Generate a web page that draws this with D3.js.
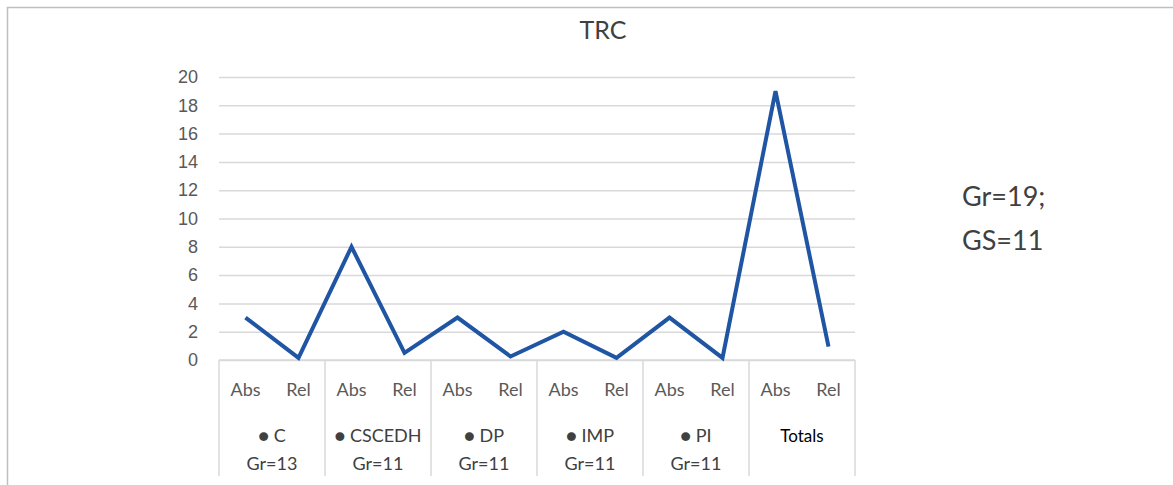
<!DOCTYPE html>
<html>
<head>
<meta charset="utf-8">
<script src="https://cdn.jsdelivr.net/npm/d3@7"></script>
<style>
  body { margin: 0; background: #fff; }
  svg { display: block; font-family: Lato, "Open Sans", sans-serif; }
</style>
</head>
<body>
<svg id="chart"></svg>
<script>
// chart data
var groups = ["C", "CSCEDH", "DP", "IMP", "PI", "Totals"];
var groupNotes = ["Gr=13", "Gr=11", "Gr=11", "Gr=11", "Gr=11", ""];
var kinds = ["Abs", "Rel"];
var values = [3, 0.15, 8, 0.5, 3, 0.25, 2, 0.15, 3, 0.15, 19, 0.95];
var yTicks = [0, 2, 4, 6, 8, 10, 12, 14, 16, 18, 20];
var title = "TRC";
var sideNote = ["Gr=19;", "GS=11"];

function drawChart() {
    var width = 1173, height = 485;
    var left = 219, right = 855, plotTop = 77, bottom = 360;

    var svg = d3.select("#chart")
        .attr("width", width)
        .attr("height", height);

    // outer frame (top + left edges visible)
    svg.append("path")
        .attr("d", "M7.5," + height + "V7.5H" + width)
        .attr("fill", "none")
        .attr("stroke", "#bfbfbf")
        .attr("stroke-width", 1.5);

    var keys = [];
    groups.forEach(function(g) {
        kinds.forEach(function(k) { keys.push(g + "|" + k); });
    });

    var x = d3.scaleBand().domain(keys).range([left, right]);
    var xg = d3.scaleBand().domain(groups).range([left, right]);
    var y = d3.scaleLinear().domain([0, 20]).range([bottom, plotTop]);

    // y axis + gridlines
    var yAxis = svg.append("g")
        .attr("transform", "translate(" + left + ",0)")
        .call(d3.axisLeft(y).tickValues(yTicks).tickSize(-(right - left)).tickPadding(21));
    yAxis.select(".domain").remove();
    yAxis.selectAll(".tick line").attr("stroke", "#d9d9d9").attr("stroke-width", 1.5);
    yAxis.selectAll(".tick text")
        .attr("fill", "#595959")
        .style("font-size", "18px");

    // category box
    var cat = svg.append("g");
    cat.append("line")
        .attr("x1", left).attr("x2", right)
        .attr("y1", bottom).attr("y2", bottom)
        .attr("stroke", "#d9d9d9").attr("stroke-width", 1.5);
    cat.selectAll(".sep")
        .data(groups.concat(["end"]))
        .enter().append("line")
        .attr("class", "sep")
        .attr("x1", function(d) { return d === "end" ? right : xg(d); })
        .attr("x2", function(d) { return d === "end" ? right : xg(d); })
        .attr("y1", bottom).attr("y2", 476)
        .attr("stroke", "#d9d9d9").attr("stroke-width", 1.5);

    cat.selectAll(".kind")
        .data(keys)
        .enter().append("text")
        .attr("class", "kind")
        .attr("x", function(d) { return x(d) + x.bandwidth() / 2; })
        .attr("y", 396)
        .attr("text-anchor", "middle")
        .attr("fill", "#595959")
        .style("font-size", "18px")
        .text(function(d) { return d.split("|")[1]; });

    cat.selectAll(".grp")
        .data(groups)
        .enter().append("text")
        .attr("class", "grp")
        .attr("x", function(d) { return xg(d) + xg.bandwidth() / 2; })
        .attr("y", 442)
        .attr("text-anchor", "middle")
        .attr("fill", function(d) { return d === "Totals" ? "#000" : "#404040"; })
        .style("font-size", function(d) { return d === "Totals" ? "17px" : "18px"; })
        .text(function(d) { return d === "Totals" ? d : "\u25CF " + d; });

    cat.selectAll(".note")
        .data(groups)
        .enter().append("text")
        .attr("class", "note")
        .attr("x", function(d) { return xg(d) + xg.bandwidth() / 2; })
        .attr("y", 470)
        .attr("text-anchor", "middle")
        .attr("fill", "#404040")
        .style("font-size", "18px")
        .text(function(d, i) { return groupNotes[i]; });

    // the line
    var line = d3.line()
        .x(function(d, i) { return x(keys[i]) + x.bandwidth() / 2; })
        .y(function(d) { return y(d); });

    svg.append("path")
        .datum(values)
        .attr("d", line)
        .attr("fill", "none")
        .attr("stroke", "#1f55a3")
        .attr("stroke-width", 4)
        .attr("stroke-linejoin", "miter");

    // title
    svg.append("text")
        .attr("x", 603).attr("y", 39)
        .attr("text-anchor", "middle")
        .attr("fill", "#404040")
        .style("font-size", "25px")
        .text(title);

    // side note
    svg.selectAll(".side")
        .data(sideNote)
        .enter().append("text")
        .attr("class", "side")
        .attr("x", 962)
        .attr("y", function(d, i) { return 206 + i * 44; })
        .attr("fill", "#404040")
        .style("font-size", "27px")
        .text(function(d) { return d; });
}

drawChart();
</script>
</body>
</html>
